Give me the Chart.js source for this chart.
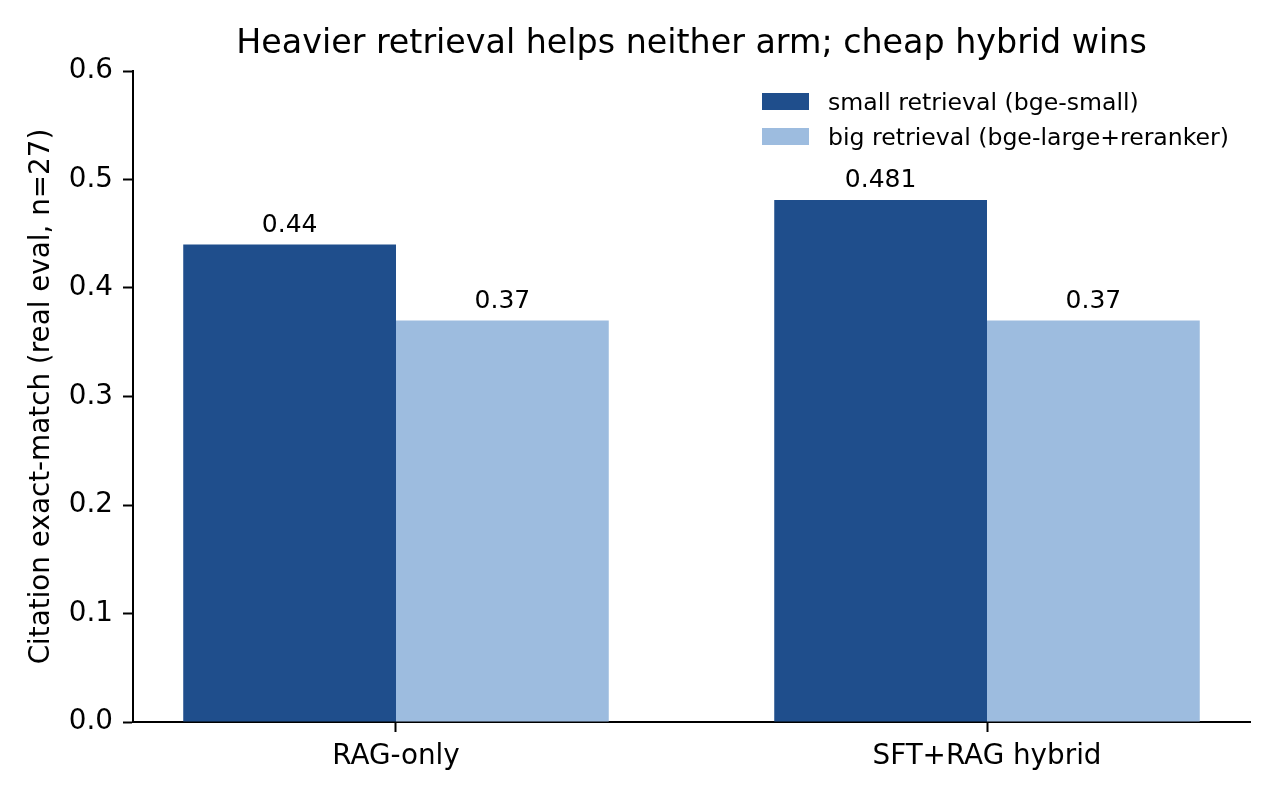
<!DOCTYPE html>
<html lang="en">
<head>
<meta charset="UTF-8">
<title>Heavier retrieval helps neither arm; cheap hybrid wins</title>
<script src="https://cdn.jsdelivr.net/npm/chart.js"></script>
<style>
  html, body { margin: 0; padding: 0; background: #fff; }
</style>
</head>
<body>
<canvas id="chart" width="1280" height="800"></canvas>
<script>
// values
const categories = ["RAG-only", "SFT+RAG hybrid"];
const seriesNames = ["small retrieval (bge-small)", "big retrieval (bge-large+reranker)"];
const smallRetrieval = [0.44, 0.481];
const bigRetrieval = [0.37, 0.37];
const yTicks = [0, 0.1, 0.2, 0.3, 0.4, 0.5, 0.6];

const titleText = "Heavier retrieval helps neither arm; cheap hybrid wins";
const yAxisTitle = "Citation exact-match (real eval, n=27)";

const DARK = "#1f4e8c";
const LIGHT = "#9dbcdf";
const FONT = "'DejaVu Sans', sans-serif";

Chart.defaults.font.family = FONT;
Chart.defaults.color = "#000";

// title drawn above the plot area, centred on it
const titlePlugin = {
  id: "plotTitle",
  afterDraw(chart) {
    const { ctx, chartArea } = chart;
    ctx.save();
    ctx.font = "33.3px " + FONT;
    ctx.fillStyle = "#000";
    ctx.textAlign = "center";
    ctx.textBaseline = "alphabetic";
    ctx.fillText(titleText, (chartArea.left + chartArea.right) / 2, 53);
    ctx.restore();
  }
};

// matplotlib style legend, upper right, no frame
const legendPlugin = {
  id: "mplLegend",
  afterDraw(chart) {
    const { ctx } = chart;
    ctx.save();
    ctx.font = "23.6px " + FONT;
    ctx.textBaseline = "alphabetic";
    ctx.textAlign = "left";
    chart.data.datasets.forEach((ds, i) => {
      const top = 93 + i * 35;
      ctx.fillStyle = ds.backgroundColor;
      ctx.fillRect(762, top, 47, 17);
      ctx.fillStyle = "#000";
      ctx.fillText(ds.label, 828, top + 17);
    });
    ctx.restore();
  }
};

// value labels above each bar
const barLabels = {
  id: "barLabels",
  afterDatasetsDraw(chart) {
    const { ctx } = chart;
    ctx.save();
    ctx.font = "25px " + FONT;
    ctx.fillStyle = "#000";
    ctx.textAlign = "center";
    ctx.textBaseline = "alphabetic";
    chart.data.datasets.forEach((ds, i) => {
      chart.getDatasetMeta(i).data.forEach((bar, j) => {
        ctx.fillText(String(ds.data[j].y), bar.x, bar.y - 13);
      });
    });
    ctx.restore();
  }
};

new Chart(document.getElementById("chart"), {
  type: "bar",
  data: {
    datasets: [
      {
        label: seriesNames[0],
        data: smallRetrieval.map((v, i) => ({ x: i, y: v })),
        backgroundColor: DARK
      },
      {
        label: seriesNames[1],
        data: bigRetrieval.map((v, i) => ({ x: i, y: v })),
        backgroundColor: LIGHT
      }
    ]
  },
  options: {
    responsive: false,
    animation: false,
    devicePixelRatio: 1,
    layout: { padding: { top: 71, right: 30, left: 0, bottom: 0 } },
    categoryPercentage: 0.72,
    barPercentage: 1.0,
    plugins: {
      legend: { display: false },
      title: { display: false },
      tooltip: { enabled: false }
    },
    scales: {
      x: {
        type: "linear",
        min: -0.445,
        max: 1.445,
        offset: false,
        afterBuildTicks: (scale) => {
          scale.ticks = categories.map((c, i) => ({ value: i }));
        },
        afterFit: (scale) => { scale.height = 78; },
        ticks: {
          font: { size: 27.8 },
          padding: 8,
          maxRotation: 0,
          autoSkip: false,
          callback: (v) => categories[v]
        },
        grid: {
          offset: false,
          drawOnChartArea: false,
          drawTicks: true,
          tickLength: 10,
          tickWidth: 2,
          tickColor: "#000"
        },
        border: { display: true, color: "#000", width: 2 }
      },
      y: {
        min: 0,
        max: 0.6,
        afterBuildTicks: (scale) => {
          scale.ticks = yTicks.map((v) => ({ value: v }));
        },
        afterFit: (scale) => { scale.width = 133; },
        ticks: {
          font: { size: 27.8 },
          padding: 10,
          callback: (v) => Number(v).toFixed(1)
        },
        grid: {
          drawOnChartArea: false,
          drawTicks: true,
          tickLength: 10,
          tickWidth: 2,
          tickColor: "#000"
        },
        border: { display: true, color: "#000", width: 2 },
        title: {
          display: true,
          text: yAxisTitle,
          font: { size: 27.8, lineHeight: 1.2 },
          padding: { top: 25, bottom: 0 }
        }
      }
    }
  },
  plugins: [titlePlugin, legendPlugin, barLabels]
});
</script>
</body>
</html>
